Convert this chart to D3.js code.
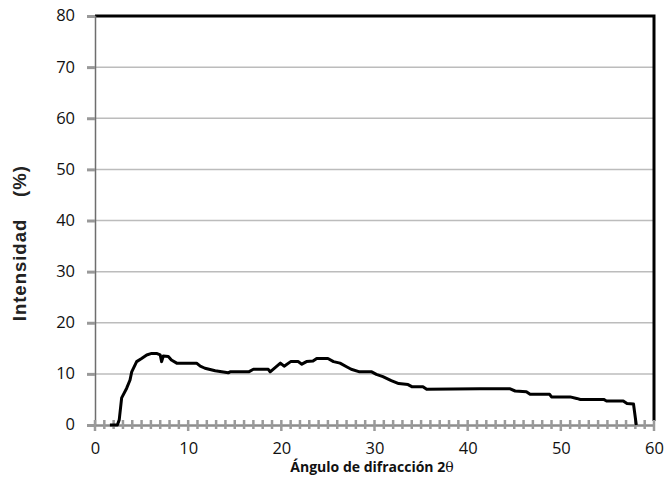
<!DOCTYPE html>
<html>
<head>
<meta charset="utf-8">
<script src="https://cdn.jsdelivr.net/npm/d3@7"></script>
<style>
  body { margin: 0; background: #fff; }
  svg { display: block; }
</style>
</head>
<body>
<script>
// diffraction pattern
let angle = [1.6, 2.4, 2.6, 2.86, 3.4, 3.76, 3.94, 4.47, 5.0, 5.55, 6.08, 6.6, 7.0, 7.15, 7.33, 7.87, 8.2, 8.77,
    10.9, 11.3, 11.8, 12.9, 14.3, 14.5, 16.5, 17.0, 18.6, 18.8, 19.9, 20.3, 21.0, 21.8, 22.2, 22.7, 23.4, 23.8,
    25.0, 25.6, 26.3, 27.0, 27.5, 28.4, 29.7, 30.2, 30.9, 31.8, 32.6, 33.6, 34.0, 35.2, 35.6, 41.3, 44.5, 45.1,
    46.3, 46.7, 48.8, 49.0, 51.0, 51.7, 52.1, 54.6, 54.9, 56.7, 57.1, 57.8, 58.1];
let intensity = [0, 0, 1.0, 5.3, 7.2, 8.8, 10.4, 12.4, 13.0, 13.7, 14.0, 14.0, 13.7, 12.4, 13.5, 13.4, 12.7, 12.1,
    12.1, 11.5, 11.1, 10.6, 10.2, 10.4, 10.4, 10.9, 10.9, 10.4, 12.1, 11.5, 12.4, 12.4, 11.9, 12.4, 12.5, 13.0,
    13.0, 12.4, 12.1, 11.4, 10.9, 10.4, 10.4, 9.9, 9.45, 8.7, 8.1, 7.9, 7.5, 7.5, 7.0, 7.1, 7.1, 6.65,
    6.5, 6.0, 6.0, 5.5, 5.5, 5.2, 5.0, 5.0, 4.7, 4.7, 4.2, 4.1, 0];

let xTicks = [0, 10, 20, 30, 40, 50, 60];
let yTicks = [0, 10, 20, 30, 40, 50, 60, 70, 80];

let width = 664, height = 481;
let svg = d3.select("body").append("svg").attr("width", width).attr("height", height);

let x = d3.scaleLinear().domain([0, 60]).range([95, 654]);
let y = d3.scaleLinear().domain([0, 80]).range([425, 16]);

// gridlines
svg.append("g").selectAll("line")
    .data(yTicks.filter(t => t > 0 && t < 80))
    .join("line")
    .attr("x1", x(0)).attr("x2", x(60))
    .attr("y1", d => y(d)).attr("y2", d => y(d))
    .attr("stroke", "#bcbcbc").attr("stroke-width", 1.5);

// top and right border in black
svg.append("path")
    .attr("d", `M${x(0)},${y(80)}H${x(60)}V${y(0) - 4}`)
    .attr("fill", "none").attr("stroke", "#000").attr("stroke-width", 3);

// y axis
let yAxis = svg.append("g")
    .attr("transform", `translate(${x(0)},0)`)
    .call(d3.axisLeft(y).tickValues(yTicks).tickSize(8).tickPadding(12));
yAxis.select(".domain").attr("stroke", "#6e6e6e").attr("stroke-width", 1.5);
yAxis.selectAll(".tick line").attr("stroke", "#999").attr("stroke-width", 3);
yAxis.selectAll(".tick text")
    .attr("font-family", "Open Sans, sans-serif").attr("font-size", 16.5).attr("fill", "#111")
    .attr("dy", "0.3em");

// x axis, with minor ticks every unit crossing the line
let xAxis = svg.append("g")
    .attr("transform", `translate(0,${y(0)})`)
    .call(d3.axisBottom(x).tickValues(xTicks).tickSize(0).tickPadding(17));
xAxis.select(".domain").attr("stroke", "#8c8c8c").attr("stroke-width", 2.5);
xAxis.selectAll(".tick text")
    .attr("font-family", "Open Sans, sans-serif").attr("font-size", 16.5).attr("fill", "#111");
xAxis.append("g").selectAll("line")
    .data(d3.range(0, 61))
    .join("line")
    .attr("x1", d => x(d)).attr("x2", d => x(d))
    .attr("y1", -5).attr("y2", d => d % 10 === 0 ? 6 : 4)
    .attr("stroke", "#9a9a9a").attr("stroke-width", 2.5);

// the pattern
let pts = angle.map((a, i) => [a, intensity[i]]);
svg.append("path")
    .datum(pts)
    .attr("d", d3.line().x(d => x(d[0])).y(d => y(d[1])))
    .attr("fill", "none").attr("stroke", "#000").attr("stroke-width", 3)
    .attr("stroke-linejoin", "round");

// axis titles
let yTitle = svg.append("g")
    .attr("font-family", "'Liberation Sans', Arial, sans-serif").attr("font-weight", "bold")
    .attr("font-size", 18.5).attr("fill", "#222").attr("text-anchor", "middle")
    .attr("letter-spacing", "1px");
yTitle.append("text").attr("transform", "translate(26,270) rotate(-90)").text("Intensidad");
yTitle.append("text").attr("transform", "translate(26,181) rotate(-90)").text("(%)");

let xt = svg.append("text")
    .attr("x", 372).attr("y", 472)
    .attr("text-anchor", "middle")
    .attr("font-family", "Open Sans, sans-serif").attr("font-size", 14).attr("fill", "#111");
xt.append("tspan").attr("font-weight", "bold").text("Ángulo de difracción 2");
xt.append("tspan").attr("font-family", "DejaVu Serif, serif").attr("font-size", 14).text("θ");
</script>
</body>
</html>
